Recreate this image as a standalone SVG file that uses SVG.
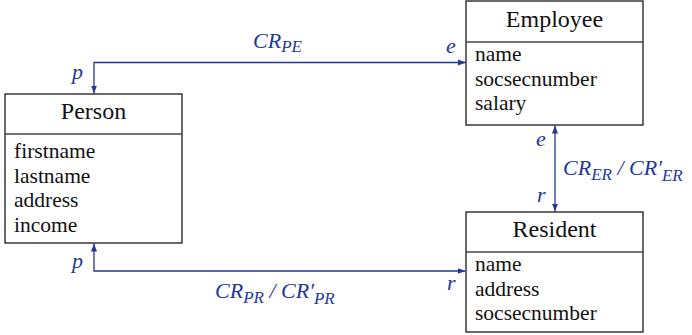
<svg xmlns="http://www.w3.org/2000/svg" width="692" height="335" viewBox="0 0 692 335">
<style>
.box{fill:#fff;stroke:#1a1a1a;stroke-width:1.3}
.div{stroke:#444;stroke-width:1.3}
.hd{font-family:'Liberation Serif',serif;font-size:24px;fill:#111;text-anchor:middle}
.at{font-family:'Liberation Serif',serif;font-size:21.5px;fill:#111}
.lb{font-family:'Liberation Serif',serif;font-style:italic;font-size:22px;fill:#23379c}
.sub{font-size:17px}
.con{fill:none;stroke:#23379c;stroke-width:1.3;marker-start:url(#ah);marker-end:url(#ah)}
</style>
<defs>
<marker id="ah" viewBox="0 0 10 10" refX="10" refY="5" markerWidth="8" markerHeight="8" markerUnits="userSpaceOnUse" orient="auto-start-reverse">
<path d="M0,1.2 L10,5 L0,8.8 z" fill="#23379c"/>
</marker>
</defs>

<g id="person">
<rect class="box" x="5" y="94" width="177" height="149"/>
<line class="div" x1="5" y1="134" x2="182" y2="134"/>
<text class="hd" x="93.5" y="119">Person</text>
<text class="at" x="14" y="158">firstname</text>
<text class="at" x="14" y="183">lastname</text>
<text class="at" x="14" y="207">address</text>
<text class="at" x="14" y="232">income</text>
</g>

<g id="employee">
<rect class="box" x="466" y="1" width="177" height="124"/>
<line class="div" x1="466" y1="42" x2="643" y2="42"/>
<text class="hd" x="554.5" y="27">Employee</text>
<text class="at" x="475" y="61">name</text>
<text class="at" x="475" y="86">socsecnumber</text>
<text class="at" x="475" y="110">salary</text>
</g>

<g id="resident">
<rect class="box" x="466" y="212" width="177" height="120"/>
<line class="div" x1="466" y1="252" x2="643" y2="252"/>
<text class="hd" x="554.5" y="237">Resident</text>
<text class="at" x="475" y="271">name</text>
<text class="at" x="475" y="296">address</text>
<text class="at" x="475" y="320">socsecnumber</text>
</g>

<g id="connectors">
<path class="con" d="M466,62.5 H94 V93.5"/>
<path class="con" d="M555,125.5 V211.5"/>
<path class="con" d="M94,243.5 V271 H465.5"/>
<text class="lb" x="253" y="48">CR<tspan class="sub" dy="4">PE</tspan></text>
<text class="lb" x="72" y="79">p</text>
<text class="lb" x="446" y="53">e</text>
<text class="lb" x="536" y="146">e</text>
<text class="lb" x="537" y="202">r</text>
<text class="lb" x="563" y="175">CR<tspan class="sub" dy="5">ER</tspan><tspan dy="-5"> / CR&#8242;</tspan><tspan class="sub" dy="6">ER</tspan></text>
<text class="lb" x="72" y="268">p</text>
<text class="lb" x="447" y="290">r</text>
<text class="lb" x="215" y="298">CR<tspan class="sub" dy="5">PR</tspan><tspan dy="-5"> / CR&#8242;</tspan><tspan class="sub" dy="6">PR</tspan></text>
</g>
</svg>
